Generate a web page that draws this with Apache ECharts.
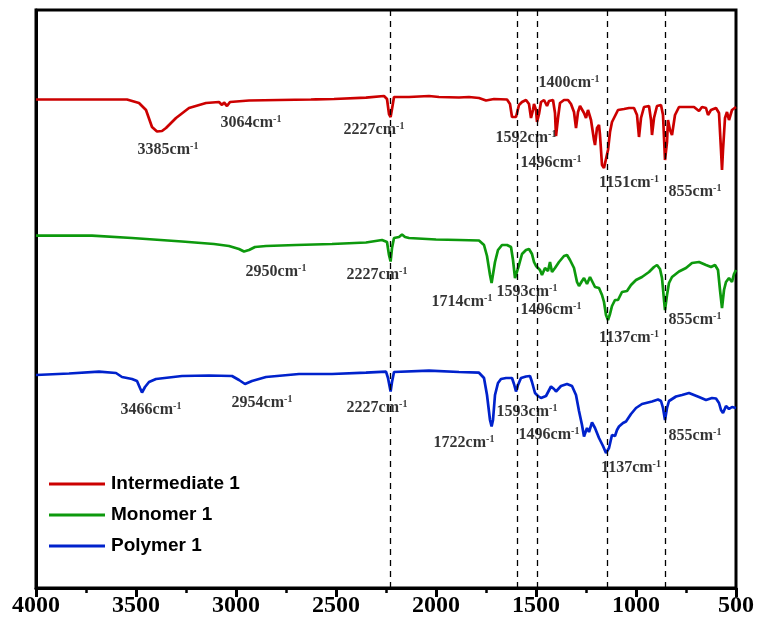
<!DOCTYPE html>
<html>
<head>
<meta charset="utf-8">
<script src="https://cdn.jsdelivr.net/npm/echarts@6/dist/echarts.min.js"></script>
<style>
  html, body { margin: 0; padding: 0; background: #fff; }
  #chart { width: 757px; height: 624px; }
</style>
</head>
<body>
<div id="chart"></div>
<script>
// FTIR spectra, stacked with vertical offsets (arbitrary transmittance units)
// Each point: [wavenumber (cm-1), offset transmittance]
const intermediate1 = [
  [4000,500.5],[3545,500.5],[3485,497],[3450,490],[3420,473],[3395,468.5],[3370,469],[3350,472],[3300,482],
  [3235,492],[3150,497],[3085,498],[3070,495],[3060,497.5],[3045,494],[3030,498],[2935,499.5],[2785,500],
  [2625,500.5],[2615,499.5],[2600,500.7],[2510,501],[2350,502.3],[2260,504],[2245,501],[2235,486],[2227,483],
  [2220,491],[2210,503],[2135,503],[2035,504],[1985,503],[1885,502.5],[1835,503],[1785,502],[1750,499.5],
  [1740,498],[1710,501],[1645,500.5],[1630,496],[1620,483],[1610,485],[1600,483],[1585,495],[1570,498],
  [1550,500],[1535,496],[1525,482],[1515,490],[1510,496],[1500,490],[1495,478],[1485,486],[1475,498],
  [1460,500],[1445,494],[1435,499],[1425,497],[1415,500],[1405,487],[1400,464],[1390,482],[1380,497],
  [1360,500],[1340,500],[1325,496],[1310,488],[1300,472],[1290,488],[1280,494],[1260,487],[1250,482],
  [1240,490],[1225,480],[1210,460],[1205,455],[1195,472],[1185,475],[1180,465],[1170,435],[1160,432],
  [1150,432],[1140,450],[1130,468],[1120,478],[1110,476],[1100,486],[1090,490],[1080,492],[1060,491],
  [1035,492],[1010,492],[995,485],[985,463],[975,482],[960,493],[935,494],[925,480],[920,465],[910,482],
  [895,494],[875,495],[865,485],[855,440],[845,458],[840,480],[830,470],[820,465],[805,485],[785,493],
  [745,493],[710,493],[685,489],[670,493],[650,492],[640,485],[625,490],[600,492],[585,487],[575,450],
  [570,430],[565,450],[555,482],[545,488],[535,480],[520,490],[500,493]
];
const monomer1 = [
  [4000,364.3],[3720,364.3],[3520,362],[3270,358.5],[3110,356],[3035,354],[2985,351],[2960,348.5],[2935,350],
  [2905,353],[2850,354],[2700,355],[2520,356],[2350,357.5],[2270,360],[2245,358],[2235,345],[2227,338.5],
  [2220,352],[2210,362],[2185,363],[2170,365.5],[2155,363],[2135,362],[2000,360.5],[1885,360],[1785,359.5],
  [1760,355],[1745,344],[1730,325],[1722,317],[1714,319],[1705,338],[1690,350],[1670,355],[1645,355],
  [1625,353],[1615,340],[1605,322],[1595,321],[1585,335],[1570,346],[1550,350],[1535,351],[1520,346],
  [1510,338],[1500,334],[1490,335],[1480,330],[1470,325],[1455,332],[1440,329],[1430,338],[1420,328],
  [1405,332],[1385,338],[1360,344],[1345,345],[1330,340],[1310,332],[1295,318],[1285,314],[1270,319],
  [1260,322],[1245,316],[1230,323],[1220,322],[1205,313],[1185,312],[1170,305],[1160,298],[1150,285],
  [1140,280],[1130,286],[1120,294],[1105,300],[1090,300],[1070,308],[1045,309],[1025,315],[1000,320],
  [970,323],[935,328],[910,333],[895,335],[880,331],[870,322],[860,300],[855,290],[845,305],[835,317],
  [820,323],[785,328.5],[750,332],[720,337],[685,338],[650,335],[625,333],[605,335],[590,330],[580,310],
  [570,292],[560,310],[550,318],[535,322],[520,318],[510,326],[500,330]
];
const polymer1 = [
  [4000,225],[3835,226.5],[3685,228.3],[3600,227],[3570,223],[3520,221],[3495,219],[3480,212],[3470,207.5],
  [3455,213],[3435,218],[3400,221],[3270,224],[3135,224.5],[3020,224],[2985,220],[2955,216],[2920,219],
  [2850,223],[2685,226],[2520,226],[2350,227.3],[2250,228.3],[2240,222],[2227,208.5],[2220,218],[2210,228],
  [2035,229.3],[1885,228],[1785,227.3],[1760,222],[1745,205],[1730,180],[1722,173.5],[1715,180],[1705,205],
  [1690,217],[1675,221],[1650,222],[1620,222],[1610,216],[1600,208.5],[1590,215],[1575,222],[1550,223.5],
  [1530,224],[1520,218],[1505,207],[1490,204],[1475,202],[1450,204],[1425,213.5],[1410,211],[1400,208.5],
  [1375,214],[1345,216],[1320,214],[1300,205],[1285,189],[1270,175],[1260,163.5],[1245,172],[1235,168],
  [1220,177.5],[1205,172],[1185,162],[1165,154],[1150,147],[1142,145],[1135,152],[1120,165],[1105,164],
  [1095,170],[1085,173.5],[1065,177],[1050,178.5],[1025,186],[1000,192],[970,196],[950,197],[920,198.5],
  [890,200.5],[875,199],[865,192],[855,180],[845,192],[835,199],[800,203.5],[770,205],[735,207],[710,205],
  [685,203],[650,200],[620,202],[600,201.5],[585,197],[575,190],[565,187],[550,194],[535,191],[520,193],
  [500,192]
];

// Series names and marker wavenumbers (dashed guides)
const seriesNames = ['Intermediate 1', 'Monomer 1', 'Polymer 1'];
const guideLines = [2227, 1596, 1496, 1142, 853];

// Peak labels (wavenumber text) for each spectrum
const peakTextsIntermediate = ['3385', '3064', '2227', '1592', '1400', '1496', '1151', '855'];
const peakTextsMonomer = ['2950', '2227', '1714', '1593', '1496', '1137', '855'];
const peakTextsPolymer = ['3466', '2954', '2227', '1722', '1593', '1496', '1137', '855'];

// Anchor points of the peak labels, in axis units
const anchorsIntermediate = [[3340,450],[2925,477],[2310,470],[1550,462],[1335,517],[1425,437],[1035,417],[705,408]];
const anchorsMonomer = [[2800,328],[2295,325],[1870,298],[1545,308],[1425,290],[1035,262],[705,280]];
const anchorsPolymer = [[3425,190],[2870,197],[2295,192],[1860,157],[1545,188],[1435,165],[1025,132],[705,164]];

const colors = ['#cc0000', '#0d990d', '#0022cc'];
const serif = "'Liberation Serif', 'Times New Roman', serif";

function labelData(texts, anchors) {
  return texts.map((t, i) => ({ value: [anchors[i][0], anchors[i][1]], name: t }));
}

const labelRich = {
  n: { fontFamily: serif, fontWeight: 'bold', fontSize: 16, color: '#000', lineHeight: 18 },
  s: { fontFamily: serif, fontWeight: 'bold', fontSize: 10, color: '#000', lineHeight: 10, verticalAlign: 'top' }
};

function labelSeries(texts, anchors) {
  return {
    type: 'scatter',
    data: labelData(texts, anchors),
    symbolSize: 0,
    silent: true,
    label: {
      show: true,
      position: 'inside',
      formatter: p => '{n|' + p.name + 'cm}{s|-1}',
      rich: labelRich
    },
    z: 5
  };
}

function lineSeries(name, data, color, withGuides) {
  const s = {
    name: name,
    type: 'line',
    data: data,
    showSymbol: false,
    symbol: 'none',
    lineStyle: { color: color, width: 2.7 },
    itemStyle: { color: color },
    z: 3
  };
  if (withGuides) {
    s.markLine = {
      silent: true,
      symbol: 'none',
      label: { show: false },
      lineStyle: { color: '#000', type: [6, 5], width: 1.3 },
      data: guideLines.map(v => ({ xAxis: v }))
    };
  }
  return s;
}

const chart = echarts.init(document.getElementById('chart'), null, { renderer: 'canvas' });
chart.setOption({
  animation: false,
  backgroundColor: '#fff',
  grid: {
    left: 36, right: 21, top: 10, bottom: 36,
    show: true, borderColor: '#000', borderWidth: 3, backgroundColor: 'transparent'
  },
  legend: {
    data: seriesNames,
    orient: 'vertical',
    left: 49, top: 474,
    padding: 0,
    icon: 'rect',
    itemWidth: 56, itemHeight: 3,
    itemGap: 11,
    textStyle: {
      fontFamily: "'Liberation Sans', Arial, sans-serif",
      fontWeight: 'bold', fontSize: 19, color: '#000', lineHeight: 20, padding: [0, 0, 0, 1]
    }
  },
  xAxis: {
    type: 'value',
    min: 500, max: 4000, interval: 500,
    inverse: true,
    position: 'bottom',
    splitLine: { show: false },
    axisLine: { show: true, lineStyle: { color: '#000', width: 3 } },
    axisTick: { show: true, inside: false, length: 9, lineStyle: { color: '#000', width: 3 } },
    minorTick: { show: true, splitNumber: 2, length: 5, lineStyle: { color: '#000', width: 2.5 } },
    axisLabel: {
      fontFamily: serif, fontWeight: 'bold', fontSize: 24, color: '#000', margin: 6,
      formatter: v => String(v)
    }
  },
  yAxis: {
    type: 'value',
    min: 12, max: 590,
    axisLine: { show: true, lineStyle: { color: '#000', width: 3 } },
    axisTick: { show: false },
    axisLabel: { show: false },
    splitLine: { show: false }
  },
  series: [
    lineSeries(seriesNames[0], intermediate1, colors[0], true),
    lineSeries(seriesNames[1], monomer1, colors[1], false),
    lineSeries(seriesNames[2], polymer1, colors[2], false),
    labelSeries(peakTextsIntermediate, anchorsIntermediate),
    labelSeries(peakTextsMonomer, anchorsMonomer),
    labelSeries(peakTextsPolymer, anchorsPolymer)
  ]
});
</script>
</body>
</html>
